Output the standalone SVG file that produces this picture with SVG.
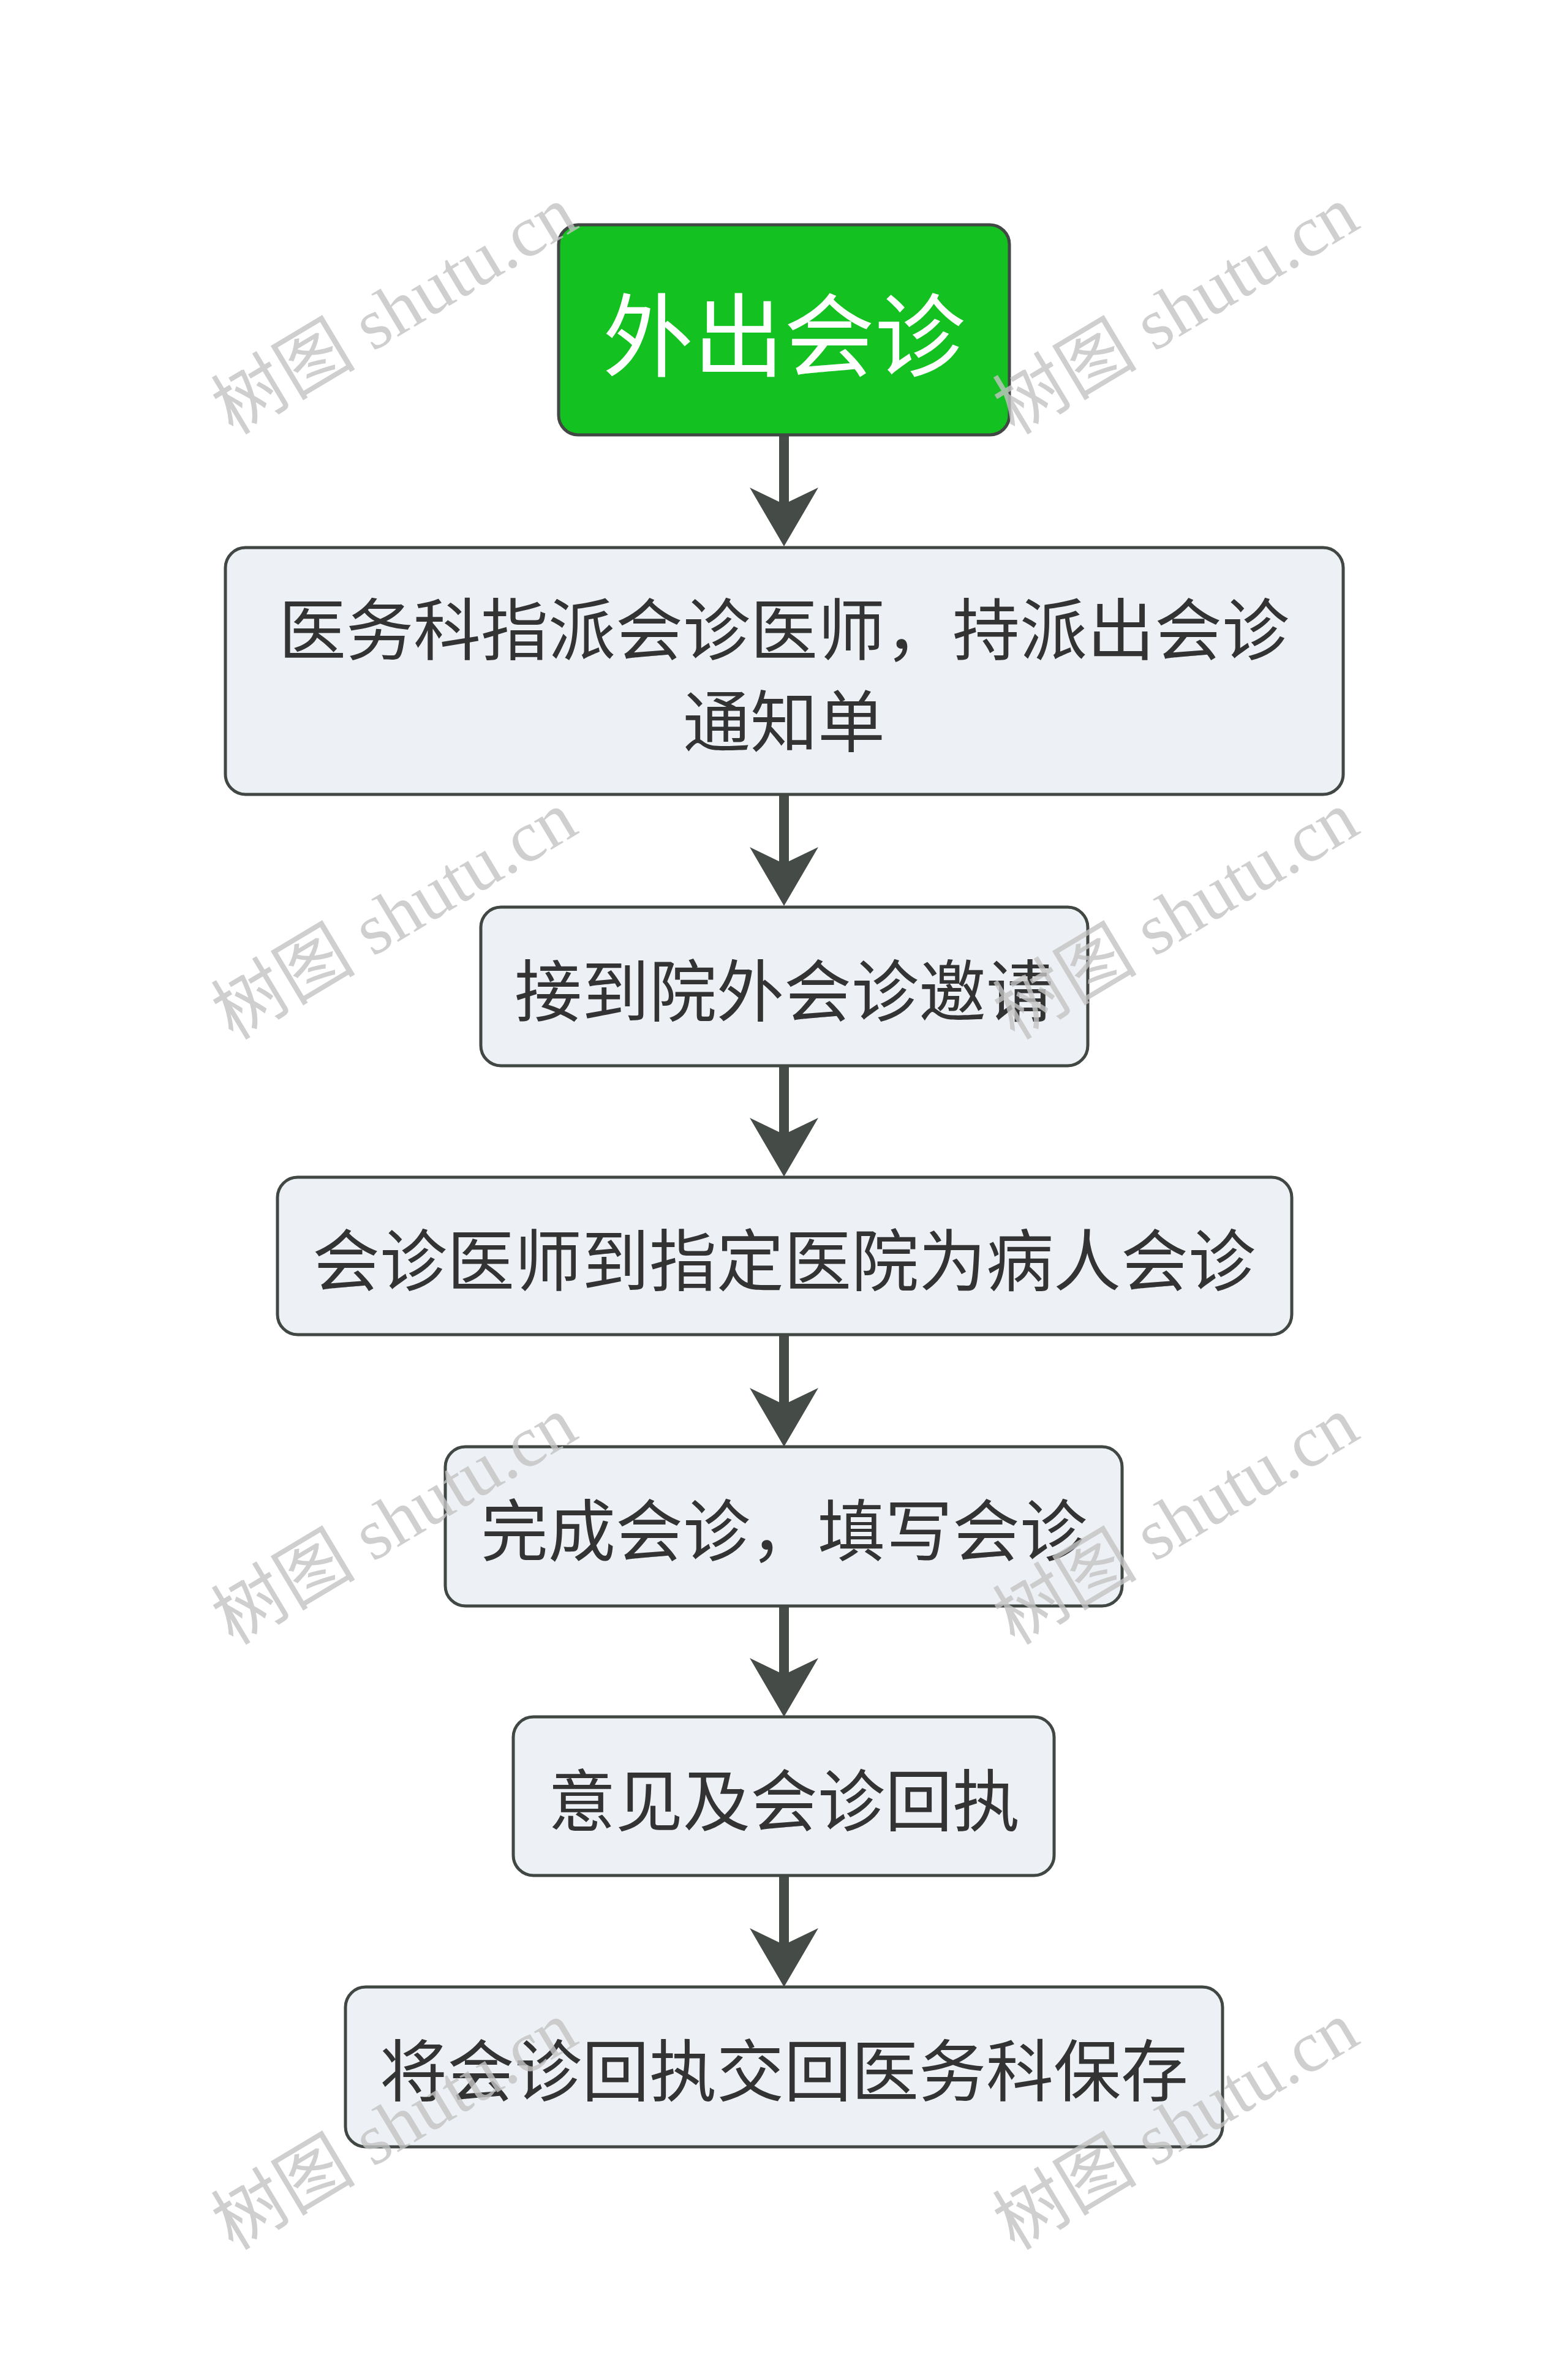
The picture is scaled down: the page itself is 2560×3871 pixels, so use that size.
<svg xmlns="http://www.w3.org/2000/svg" width="2560" height="3871" viewBox="0 0 2560 3871">
<style>
.box{fill:#edf1f5;stroke:#414742;stroke-width:5}
.root{fill:#13c220;stroke:#414742;stroke-width:5}
.t{font-family:"Noto Sans CJK SC","Noto Sans",sans-serif;font-size:110px;fill:#333333;text-anchor:middle;dominant-baseline:central}
.rt{font-family:"Noto Sans CJK SC","Noto Sans",sans-serif;font-size:148px;fill:#ffffff;text-anchor:middle;dominant-baseline:central}
.edge{stroke:#454b46;stroke-width:16;fill:none}
.wm{font-family:"Liberation Serif","Noto Sans CJK SC",serif;font-size:118px;fill:#c4c4c4;opacity:0.8;text-anchor:middle;dominant-baseline:central}
</style>
<defs>
<marker id="arr" markerUnits="userSpaceOnUse" markerWidth="96" markerHeight="112" viewBox="0 0 96 112" refX="34" refY="56" orient="auto">
<path d="M96,56 L0,0 L27,56 L0,112 Z" fill="#454b46"/>
</marker>
</defs>
<rect width="2560" height="3871" fill="#ffffff"/>
<g id="connectors">
<path class="edge" d="M1280,710 L1280,830" marker-end="url(#arr)"/>
<path class="edge" d="M1280,1297 L1280,1417" marker-end="url(#arr)"/>
<path class="edge" d="M1280,1740 L1280,1859" marker-end="url(#arr)"/>
<path class="edge" d="M1280,2179 L1280,2300" marker-end="url(#arr)"/>
<path class="edge" d="M1280,2622 L1280,2741" marker-end="url(#arr)"/>
<path class="edge" d="M1280,3062 L1280,3182" marker-end="url(#arr)"/>
</g>
<g id="n0">
<rect class="root" x="912" y="367" width="736" height="343" rx="32"/>
<text class="rt" x="1280" y="538">外出会诊</text>
</g>
<g id="n1">
<rect class="box" x="368" y="894" width="1825" height="403" rx="33"/>
<text class="t" x="1280" y="1021">医务科指派会诊医师，持派出会诊</text>
<text class="t" x="1280" y="1171">通知单</text>
</g>
<g id="n2">
<rect class="box" x="785" y="1481" width="991" height="259" rx="33"/>
<text class="t" x="1280" y="1611">接到院外会诊邀请</text>
</g>
<g id="n3">
<rect class="box" x="453" y="1922" width="1656" height="257" rx="33"/>
<text class="t" x="1280" y="2051">会诊医师到指定医院为病人会诊</text>
</g>
<g id="n4">
<rect class="box" x="727" y="2362" width="1105" height="260" rx="33"/>
<text class="t" x="1280" y="2492">完成会诊，填写会诊</text>
</g>
<g id="n5">
<rect class="box" x="838" y="2803" width="883" height="259" rx="33"/>
<text class="t" x="1280" y="2933">意见及会诊回执</text>
</g>
<g id="n6">
<rect class="box" x="564" y="3244" width="1432" height="261" rx="33"/>
<text class="t" x="1280" y="3374">将会诊回执交回医务科保存</text>
</g>
<g id="watermarks">
<text class="wm" transform="translate(644,507) rotate(-31)">树图 shutu.cn</text>
<text class="wm" transform="translate(1920,507) rotate(-31)">树图 shutu.cn</text>
<text class="wm" transform="translate(644,1495) rotate(-31)">树图 shutu.cn</text>
<text class="wm" transform="translate(1920,1495) rotate(-31)">树图 shutu.cn</text>
<text class="wm" transform="translate(644,2483) rotate(-31)">树图 shutu.cn</text>
<text class="wm" transform="translate(1920,2483) rotate(-31)">树图 shutu.cn</text>
<text class="wm" transform="translate(644,3471) rotate(-31)">树图 shutu.cn</text>
<text class="wm" transform="translate(1920,3471) rotate(-31)">树图 shutu.cn</text>
</g>
</svg>
